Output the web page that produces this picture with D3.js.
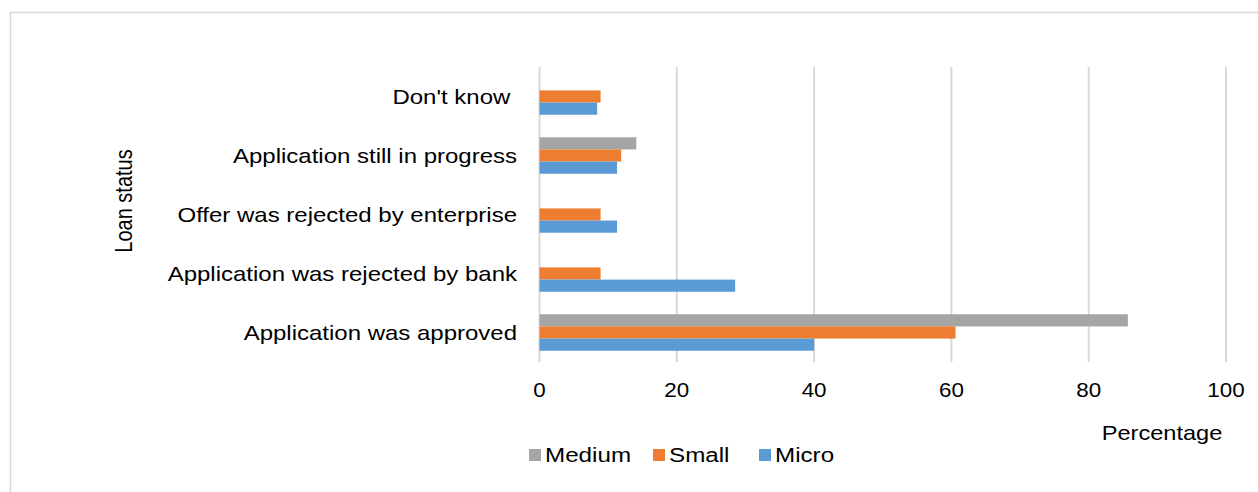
<!DOCTYPE html>
<html><head><meta charset="utf-8">
<script src="https://cdn.jsdelivr.net/npm/d3@7"></script>
<style>body{margin:0;background:#fff}svg{display:block;font-family:"Liberation Sans",Arial,sans-serif}</style>
</head><body>
<svg id="c" width="1258" height="492"></svg>
<script>
const categories = ["Application was approved","Application was rejected by bank","Offer was rejected by enterprise","Application still in progress","Don't know "];
const seriesNames = ["Medium","Small","Micro"];
const medium = [85.7, 0, 0, 14.1, 0];
const small = [60.6, 8.9, 8.9, 11.9, 8.9];
const micro = [40.0, 28.5, 11.3, 11.3, 8.4];
const xTicks = [0,20,40,60,80,100];
const colors = {Medium:"#A5A5A5", Small:"#ED7D31", Micro:"#5B9BD5"};
const seriesValues = {Medium: medium, Small: small, Micro: micro};

const svg = d3.select("#c");
// outer border
svg.append("path").attr("d","M10.5,500 V12.5 H1270").attr("fill","none").attr("stroke","#D9D9D9").attr("stroke-width",1.5);

const x = d3.scaleLinear().domain([0,100]).range([539.5,1226]);
const y = d3.scaleBand().domain(categories.slice().reverse()).range([67,362]);
const groupH = 36.5;
const inner = d3.scaleBand().domain(seriesNames).range([(y.bandwidth()-groupH)/2, (y.bandwidth()+groupH)/2]);

// gridlines
svg.append("g").selectAll("line").data(xTicks).join("line")
  .attr("x1",d=>x(d)).attr("x2",d=>x(d)).attr("y1",67).attr("y2",362)
  .attr("stroke","#D9D9D9").attr("stroke-width",2);

// bars
seriesNames.forEach(s=>{
  svg.append("g").selectAll("rect").data(categories.map((c,i)=>({c,v:seriesValues[s][i]})).filter(d=>d.v>0)).join("rect")
    .attr("x",x(0)).attr("y",d=>y(d.c)+inner(s)).attr("width",d=>x(d.v)-x(0)).attr("height",inner.bandwidth())
    .attr("fill",colors[s]);
});

// category labels
svg.append("g").selectAll("text").data(categories).join("text")
  .attr("transform",d=>`translate(517,${y(d)+y.bandwidth()/2}) scale(1.2,1)`).attr("dy","0.35em")
  .attr("text-anchor","end").attr("font-size",20).attr("fill","#000")
  .style("white-space","pre").text(d=>d);

// x tick labels
svg.append("g").selectAll("text").data(xTicks).join("text")
  .attr("transform",d=>`translate(${x(d)},397) scale(1.12,1)`).attr("text-anchor","middle").attr("font-size",20).attr("fill","#000").text(d=>d);

// axis titles
svg.append("text").attr("transform","translate(1162,440) scale(1.18,1)").attr("text-anchor","middle").attr("font-size",20).text("Percentage");
svg.append("text").attr("transform","translate(132,201) scale(1.2,1) rotate(-90)").attr("text-anchor","middle").attr("font-size",20).text("Loan status");

// legend
const legendX = [529, 653, 759];
const lg = svg.append("g").selectAll("g").data(seriesNames).join("g")
  .attr("transform",(d,i)=>`translate(${legendX[i]},449)`);
lg.append("rect").attr("width",12).attr("height",12).attr("fill",d=>colors[d]);
lg.append("text").attr("transform","translate(16,6) scale(1.21,1)").attr("dy","0.35em").attr("font-size",20).text(d=>d);
</script>
</body></html>
